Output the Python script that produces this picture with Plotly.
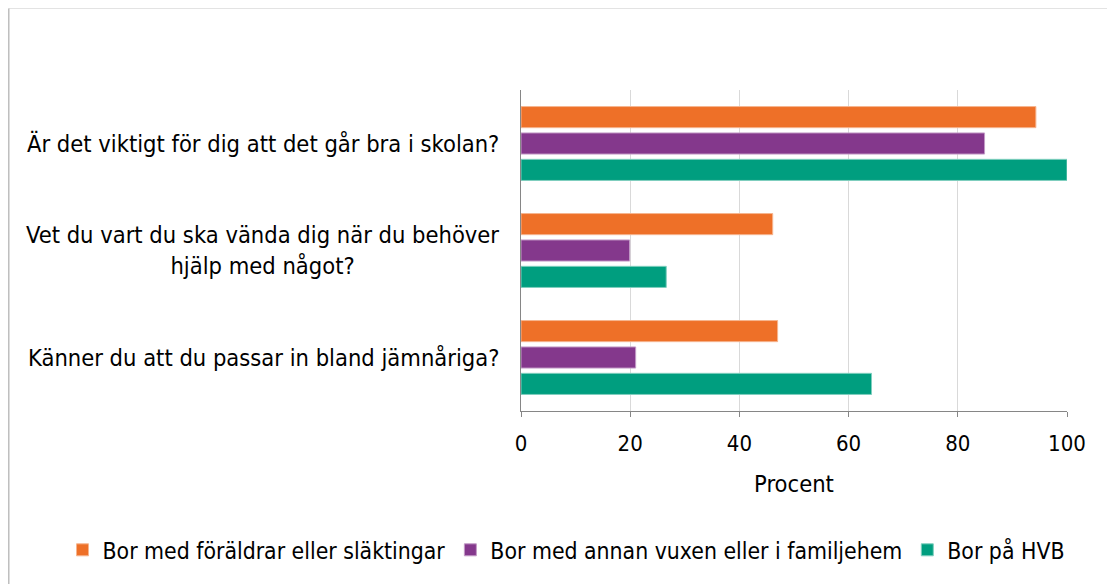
import plotly.graph_objects as go

# Questions (top to bottom) and series values in percent
questions = [
    "Är det viktigt för dig att det går bra i skolan?",
    "Vet du vart du ska vända dig när du behöver<br>hjälp med något?",
    "Känner du att du passar in bland jämnåriga?",
]
foraldrar = [94.3, 46.1, 47.0]
annan_vuxen = [84.9, 19.9, 21.0]
hvb = [100, 26.6, 64.2]

series_names = [
    "Bor med föräldrar eller släktingar",
    "Bor med annan vuxen eller i familjehem",
    "Bor på HVB",
]
colors = ["#EE7028", "#84388C", "#009E7F"]
edge_colors = ["#F6B58F", "#C39BC6", "#80CFBF"]

fig = go.Figure()
for name, vals, col, edge in zip(series_names, [foraldrar, annan_vuxen, hvb], colors, edge_colors):
    fig.add_trace(go.Bar(
        y=questions, x=vals, name=name, orientation="h",
        marker=dict(color=col, line=dict(color=edge, width=1)),
    ))

font_family = "DejaVu Sans Condensed, DejaVu Sans"

# category labels as annotations so the wrapped one is centre aligned
for q in questions:
    fig.add_annotation(text=q, xref="paper", x=0, xanchor="right", xshift=-20,
                       yref="y", y=q, yanchor="middle", align="center",
                       showarrow=False, font=dict(size=23.5))

# the page adds an 8px body margin, margins below compensate for it
fig.update_layout(
    width=1115, height=584,
    paper_bgcolor="white", plot_bgcolor="white",
    margin=dict(l=513, r=56, t=82, b=181),
    barmode="group", bargap=0.26, bargroupgap=0.2,
    font=dict(family=font_family, size=23.5, color="#000000"),
    legend=dict(orientation="h", x=-0.8397, xanchor="left",
                y=-0.433, yanchor="middle",
                font=dict(size=22.8), itemwidth=30, traceorder="normal"),
    xaxis=dict(range=[0, 100], tickvals=[0, 20, 40, 60, 80, 100],
               showgrid=True, gridcolor="#D9D9D9", gridwidth=1,
               showline=True, linecolor="#868686", linewidth=1,
               ticks="outside", ticklen=5, tickcolor="#868686",
               ticklabelstandoff=8, zeroline=False,
               tickfont=dict(size=22),
               title=dict(text="Procent", standoff=20, font=dict(size=23.5))),
    yaxis=dict(autorange="reversed", showline=True, linecolor="#868686",
               linewidth=1, ticks="", showticklabels=False, showgrid=False),
    shapes=[
        dict(type="line", xref="paper", yref="paper",
             x0=-0.9386, x1=1.2, y0=1.2539, y1=1.2539,
             line=dict(color="#E3E3E3", width=1)),
        dict(type="line", xref="paper", yref="paper",
             x0=-0.9386, x1=-0.9386, y0=1.2539, y1=-0.6,
             line=dict(color="#BFBFBF", width=2)),
    ],
)

fig.write_html("out.html")
